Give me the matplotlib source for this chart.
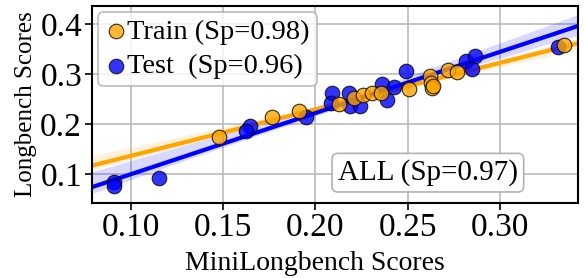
import numpy as np
import matplotlib
matplotlib.use('Agg')
import matplotlib.pyplot as plt
import seaborn as sns

# train points (MiniLongbench, Longbench)
train_x = [0.1477, 0.1768, 0.1912, 0.2129, 0.2211, 0.2259, 0.2308, 0.2355,
           0.2508, 0.2621, 0.2625, 0.2635, 0.2640, 0.2720, 0.2769, 0.3347]
train_y = [0.1734, 0.2147, 0.2260, 0.2400, 0.2513, 0.2580, 0.2627, 0.2613,
           0.2693, 0.2960, 0.2813, 0.2727, 0.2760, 0.3080, 0.3047, 0.3580]

# test points
test_x = [0.0910, 0.0910, 0.1152, 0.1645, 0.1627, 0.1949, 0.2090, 0.2088,
          0.2183, 0.2187, 0.2245, 0.2364, 0.2386, 0.2425, 0.2490, 0.2819,
          0.2864, 0.2847, 0.3316]
test_y = [0.0830, 0.0760, 0.0926, 0.1970, 0.1860, 0.2134, 0.2627, 0.2413,
          0.2627, 0.2360, 0.2360, 0.2793, 0.2480, 0.2733, 0.3060, 0.3266,
          0.3366, 0.3093, 0.3547]

plt.rcParams['font.family'] = 'Liberation Serif'

fig, ax = plt.subplots(figsize=(5.85, 2.78), dpi=100)

sns.regplot(x=np.array(train_x), y=np.array(train_y), ax=ax, color='orange',
            scatter=False, truncate=False, line_kws={'lw': 3})
sns.regplot(x=np.array(test_x), y=np.array(test_y), ax=ax, color='blue',
            scatter=False, truncate=False, line_kws={'lw': 3})

ax.scatter(test_x, test_y, s=110, color='blue', edgecolor='k', linewidth=0.8,
           alpha=0.8, zorder=3, label='Test  (Sp=0.96)')
ax.scatter(train_x, train_y, s=110, color='orange', edgecolor='k', linewidth=0.8,
           alpha=0.8, zorder=4, label='Train (Sp=0.98)')

ax.set_xlim(0.079, 0.3423)
ax.set_ylim(0.042, 0.436)
ax.set_xticks([0.10, 0.15, 0.20, 0.25, 0.30])
ax.set_yticks([0.1, 0.2, 0.3, 0.4])
ax.grid(True, color='#bbbbbb', lw=1.2)
ax.set_axisbelow(True)
for s in ax.spines.values():
    s.set_linewidth(1.5)
ax.tick_params(length=5, width=1.2, labelsize=24, pad=2)

ax.set_xlabel('MiniLongbench Scores', fontsize=20, labelpad=0)
ax.xaxis.set_label_coords(0.459, -0.245)
ax.xaxis.label.set_va('top')
ax.set_ylabel('Longbench Scores', fontsize=18, labelpad=2)

h, l = ax.get_legend_handles_labels()
leg = ax.legend(h[::-1], l[::-1], loc='upper left', fontsize=20.5, handletextpad=0.0,
                borderpad=0.25, labelspacing=0.3, handlelength=0.8,
                borderaxespad=0.2, framealpha=0.8, edgecolor='#aaaaaa')
leg.get_frame().set_linewidth(1.2)

ax.text(0.261, 0.1026, 'ALL (Sp=0.97)', fontsize=21, ha='center', va='center',
        bbox=dict(boxstyle='round,pad=0.2', fc='white', ec='#aaaaaa', lw=1.2, alpha=0.9))

fig.subplots_adjust(left=0.157, right=0.988, top=0.978, bottom=0.27)
fig.savefig('out.png', dpi=100)
